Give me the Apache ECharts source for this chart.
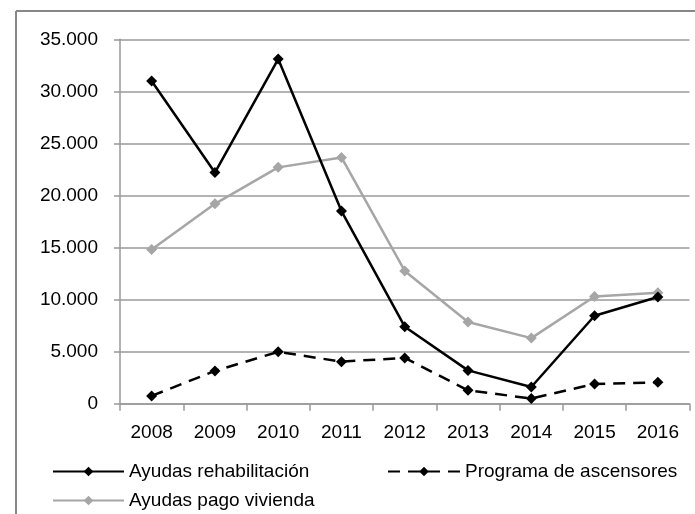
<!DOCTYPE html>
<html>
<head>
<meta charset="utf-8">
<script src="https://cdn.jsdelivr.net/npm/echarts@6/dist/echarts.min.js"></script>
<style>
html,body{margin:0;padding:0;background:#fff;}
#chart{width:695px;height:514px;}
</style>
</head>
<body>
<div id="chart"></div>
<script>
var years = ['2008','2009','2010','2011','2012','2013','2014','2015','2016'];
var ayudasRehabilitacion = [31000, 22200, 33100, 18500, 7400, 3200, 1600, 8450, 10250];
var programaAscensores = [750, 3150, 4980, 4040, 4400, 1280, 500, 1900, 2050];
var ayudasPagoVivienda = [14800, 19200, 22700, 23650, 12750, 7850, 6300, 10300, 10650];

var FONT = '"Liberation Sans", Arial, sans-serif';
var chart = echarts.init(document.getElementById('chart'), null, {renderer:'canvas'});

function legendAt(name, left, top, w){
  return {
    data:[name], left:left, top:top, orient:'horizontal',
    itemWidth:w, itemHeight:12, padding:0, itemGap:0,
    textStyle:{fontFamily:FONT, fontSize:19, color:'#000'},
    selectedMode:false
  };
}

chart.setOption({
  animation:false,
  backgroundColor:'#fff',
  graphic:[
    {type:'line', shape:{x1:16, y1:11, x2:700, y2:11}, style:{stroke:'#888', lineWidth:2}},
    {type:'line', shape:{x1:16, y1:11, x2:16, y2:520}, style:{stroke:'#888', lineWidth:2}}
  ],
  grid:{left:120, right:5.5, top:39.3, bottom:110.3, containLabel:false},
  legend:[
    legendAt('Ayudas rehabilitación', 52, 462, 71),
    legendAt('Programa de ascensores', 387, 462, 72),
    legendAt('Ayudas pago vivienda', 52, 491, 71)
  ],
  xAxis:{
    type:'category', data:years, boundaryGap:true,
    axisLine:{lineStyle:{color:'#999', width:1.5}},
    axisTick:{show:true, length:7, lineStyle:{color:'#999', width:1.5}},
    axisLabel:{fontFamily:FONT, fontSize:19, color:'#000', margin:20},
    splitLine:{show:false}
  },
  yAxis:{
    type:'value', min:0, max:35000, interval:5000,
    axisLine:{show:true, lineStyle:{color:'#999', width:1.5}},
    axisTick:{show:true, length:6, lineStyle:{color:'#999', width:1.5}},
    axisLabel:{fontFamily:FONT, fontSize:19, color:'#000', margin:22,
      formatter:function(v){ return v.toString().replace(/\B(?=(\d{3})+(?!\d))/g, '.'); }},
    splitLine:{show:true, lineStyle:{color:'#9a9a9a', width:1.5}}
  },
  series:[
    {name:'Ayudas pago vivienda', type:'line', data:ayudasPagoVivienda,
     symbol:'diamond', symbolSize:11,
     lineStyle:{color:'#a6a6a6', width:2.5}, itemStyle:{color:'#a6a6a6'}},
    {name:'Ayudas rehabilitación', type:'line', data:ayudasRehabilitacion,
     symbol:'diamond', symbolSize:11,
     lineStyle:{color:'#000', width:2.5}, itemStyle:{color:'#000'}},
    {name:'Programa de ascensores', type:'line', data:programaAscensores,
     symbol:'diamond', symbolSize:11,
     lineStyle:{color:'#000', width:2.5, type:[12,8]}, itemStyle:{color:'#000'}}
  ]
});
</script>
</body>
</html>
